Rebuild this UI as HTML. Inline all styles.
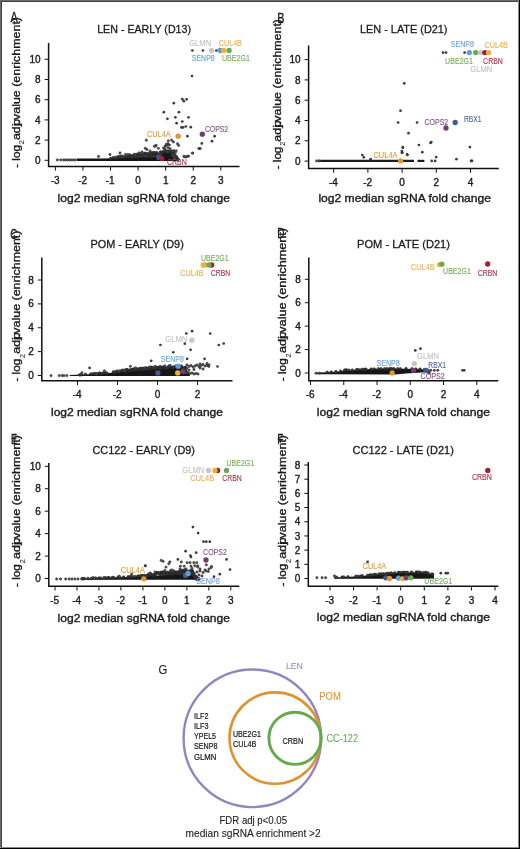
<!DOCTYPE html><html><head><meta charset="utf-8"><style>
html,body{margin:0;padding:0;background:#fff}
body{width:520px;height:849px;overflow:hidden;position:relative}
svg{position:absolute;left:0;top:0;font-family:"Liberation Sans",sans-serif;will-change:transform}
</style></head><body>
<svg width="520" height="849" viewBox="0 0 520 849">
<path d="M48.60 43.00 V166.40 H239.50" fill="none" stroke="#111" stroke-width="1.5"/>
<path d="M44.60 160.30 H48.60" stroke="#111" stroke-width="1"/>
<text x="40.60" y="163.90" font-size="10.0" fill="#1a1a1a" stroke="#1a1a1a" stroke-width="0.36" text-anchor="end">0</text>
<path d="M44.60 140.10 H48.60" stroke="#111" stroke-width="1"/>
<text x="40.60" y="143.70" font-size="10.0" fill="#1a1a1a" stroke="#1a1a1a" stroke-width="0.36" text-anchor="end">2</text>
<path d="M44.60 119.90 H48.60" stroke="#111" stroke-width="1"/>
<text x="40.60" y="123.50" font-size="10.0" fill="#1a1a1a" stroke="#1a1a1a" stroke-width="0.36" text-anchor="end">4</text>
<path d="M44.60 99.70 H48.60" stroke="#111" stroke-width="1"/>
<text x="40.60" y="103.30" font-size="10.0" fill="#1a1a1a" stroke="#1a1a1a" stroke-width="0.36" text-anchor="end">6</text>
<path d="M44.60 79.50 H48.60" stroke="#111" stroke-width="1"/>
<text x="40.60" y="83.10" font-size="10.0" fill="#1a1a1a" stroke="#1a1a1a" stroke-width="0.36" text-anchor="end">8</text>
<path d="M44.60 59.30 H48.60" stroke="#111" stroke-width="1"/>
<text x="40.60" y="62.90" font-size="10.0" fill="#1a1a1a" stroke="#1a1a1a" stroke-width="0.36" text-anchor="end">10</text>
<path d="M55.40 166.40 V170.60" stroke="#111" stroke-width="1"/>
<text x="55.10" y="183.80" font-size="10.0" fill="#1a1a1a" stroke="#1a1a1a" stroke-width="0.36" text-anchor="middle">-3</text>
<path d="M82.97 166.40 V170.60" stroke="#111" stroke-width="1"/>
<text x="82.67" y="183.80" font-size="10.0" fill="#1a1a1a" stroke="#1a1a1a" stroke-width="0.36" text-anchor="middle">-2</text>
<path d="M110.53 166.40 V170.60" stroke="#111" stroke-width="1"/>
<text x="110.23" y="183.80" font-size="10.0" fill="#1a1a1a" stroke="#1a1a1a" stroke-width="0.36" text-anchor="middle">-1</text>
<path d="M138.10 166.40 V170.60" stroke="#111" stroke-width="1"/>
<text x="138.10" y="183.80" font-size="10.0" fill="#1a1a1a" stroke="#1a1a1a" stroke-width="0.36" text-anchor="middle">0</text>
<path d="M165.67 166.40 V170.60" stroke="#111" stroke-width="1"/>
<text x="165.67" y="183.80" font-size="10.0" fill="#1a1a1a" stroke="#1a1a1a" stroke-width="0.36" text-anchor="middle">1</text>
<path d="M193.23 166.40 V170.60" stroke="#111" stroke-width="1"/>
<text x="193.23" y="183.80" font-size="10.0" fill="#1a1a1a" stroke="#1a1a1a" stroke-width="0.36" text-anchor="middle">2</text>
<path d="M220.80 166.40 V170.60" stroke="#111" stroke-width="1"/>
<text x="220.80" y="183.80" font-size="10.0" fill="#1a1a1a" stroke="#1a1a1a" stroke-width="0.36" text-anchor="middle">3</text>
<text x="97.20" y="32.60" font-size="11.8" fill="#1a1a1a" stroke="#1a1a1a" stroke-width="0.3" text-anchor="start" textLength="93.80" lengthAdjust="spacingAndGlyphs">LEN - EARLY (D13)</text>
<text x="10.40" y="22.30" font-size="14.0" fill="#1a1a1a" stroke="#1a1a1a" stroke-width="0.3" text-anchor="start" textLength="7.20" lengthAdjust="spacingAndGlyphs">A</text>
<text x="57.60" y="201.90" font-size="11.5" fill="#1a1a1a" stroke="#1a1a1a" stroke-width="0.36" text-anchor="start" textLength="172.40" lengthAdjust="spacingAndGlyphs">log2 median sgRNA fold change</text>
<g transform="translate(19.60 167.80) rotate(-90)">
<text x="0" y="0" font-size="11.6" fill="#1a1a1a" stroke="#1a1a1a" stroke-width="0.36" textLength="22.72" lengthAdjust="spacingAndGlyphs">- log</text>
<text x="23.52" y="4.7" font-size="7.2" fill="#333" stroke="#333" stroke-width="0.1">2</text>
<text x="27.75" y="0" font-size="11.6" fill="#1a1a1a" stroke="#1a1a1a" stroke-width="0.36" textLength="123.05" lengthAdjust="spacingAndGlyphs"> adj.value (enrichment)</text>
<text x="42.43" y="0" font-size="11.6" fill="#1a1a1a" stroke="#1a1a1a" stroke-width="0.3">p</text>
</g>
<polygon points="77.0,161.0 77.0,158.6 100.0,158.4 115.0,158.2 125.0,157.3 145.0,157.0 157.0,156.8 160.0,156.5 163.0,152.5 166.0,151.0 169.0,151.5 171.0,154.0 173.0,157.0 176.0,159.8 178.0,160.6 178.0,161.0" fill="#161616"/>
<g fill="#3c3c3c" stroke="#1c1c1c" stroke-width="0.5"><circle cx="110.8" cy="158.4" r="1.35"/><circle cx="113.3" cy="157.8" r="1.35"/><circle cx="114.9" cy="157.9" r="1.35"/><circle cx="117.2" cy="158.0" r="1.35"/><circle cx="118.0" cy="156.9" r="1.35"/><circle cx="119.8" cy="156.5" r="1.35"/><circle cx="121.8" cy="156.2" r="1.35"/><circle cx="123.4" cy="157.2" r="1.35"/><circle cx="125.2" cy="156.5" r="1.35"/><circle cx="127.2" cy="155.9" r="1.35"/><circle cx="128.4" cy="156.9" r="1.35"/><circle cx="129.5" cy="155.5" r="1.35"/><circle cx="130.1" cy="155.1" r="1.35"/><circle cx="131.3" cy="156.8" r="1.35"/><circle cx="131.8" cy="157.1" r="1.35"/><circle cx="133.5" cy="155.1" r="1.35"/><circle cx="133.6" cy="155.8" r="1.35"/><circle cx="134.8" cy="154.6" r="1.35"/><circle cx="134.3" cy="156.5" r="1.35"/><circle cx="136.8" cy="155.2" r="1.35"/><circle cx="135.7" cy="156.4" r="1.35"/><circle cx="137.3" cy="154.3" r="1.35"/><circle cx="137.4" cy="156.5" r="1.35"/><circle cx="139.0" cy="155.3" r="1.35"/><circle cx="139.0" cy="156.2" r="1.35"/><circle cx="140.9" cy="154.0" r="1.35"/><circle cx="140.7" cy="154.3" r="1.35"/><circle cx="142.4" cy="156.3" r="1.35"/><circle cx="142.3" cy="156.6" r="1.35"/><circle cx="144.4" cy="156.5" r="1.35"/><circle cx="144.8" cy="153.6" r="1.35"/><circle cx="143.9" cy="154.0" r="1.35"/><circle cx="145.6" cy="154.3" r="1.35"/><circle cx="145.3" cy="153.3" r="1.35"/><circle cx="147.5" cy="153.8" r="1.35"/><circle cx="147.3" cy="154.4" r="1.35"/><circle cx="147.4" cy="156.8" r="1.35"/><circle cx="148.6" cy="156.4" r="1.35"/><circle cx="149.5" cy="153.3" r="1.35"/><circle cx="148.7" cy="156.2" r="1.35"/><circle cx="151.1" cy="155.8" r="1.35"/><circle cx="151.1" cy="153.4" r="1.35"/><circle cx="150.7" cy="156.4" r="1.35"/><circle cx="151.6" cy="152.8" r="1.35"/><circle cx="151.9" cy="156.7" r="1.35"/><circle cx="151.9" cy="155.5" r="1.35"/><circle cx="153.6" cy="155.0" r="1.35"/><circle cx="154.1" cy="153.0" r="1.35"/><circle cx="153.5" cy="152.5" r="1.35"/><circle cx="155.5" cy="156.1" r="1.35"/><circle cx="155.9" cy="153.3" r="1.35"/><circle cx="154.8" cy="153.0" r="1.35"/><circle cx="156.5" cy="154.0" r="1.35"/><circle cx="156.8" cy="152.7" r="1.35"/><circle cx="156.6" cy="154.7" r="1.35"/><circle cx="159.2" cy="156.1" r="1.35"/><circle cx="158.8" cy="155.1" r="1.35"/><circle cx="158.2" cy="154.7" r="1.35"/><circle cx="160.7" cy="152.2" r="1.35"/><circle cx="160.8" cy="155.0" r="1.35"/><circle cx="160.4" cy="152.2" r="1.35"/><circle cx="161.6" cy="153.2" r="1.35"/><circle cx="161.3" cy="154.1" r="1.35"/><circle cx="163.9" cy="151.6" r="1.35"/><circle cx="163.6" cy="151.6" r="1.35"/><circle cx="164.8" cy="151.4" r="1.35"/><circle cx="167.0" cy="151.0" r="1.35"/><circle cx="168.6" cy="151.0" r="1.35"/><circle cx="169.7" cy="151.5" r="1.35"/><circle cx="169.9" cy="151.4" r="1.35"/><circle cx="172.0" cy="152.9" r="1.35"/><circle cx="171.7" cy="154.0" r="1.35"/><circle cx="171.7" cy="151.7" r="1.35"/><circle cx="173.4" cy="153.7" r="1.35"/><circle cx="173.3" cy="151.6" r="1.35"/><circle cx="173.1" cy="151.2" r="1.35"/><circle cx="172.7" cy="153.9" r="1.35"/><circle cx="174.7" cy="155.8" r="1.35"/><circle cx="174.3" cy="158.1" r="1.35"/><circle cx="174.4" cy="153.1" r="1.35"/><circle cx="175.8" cy="156.2" r="1.35"/><circle cx="176.4" cy="159.4" r="1.35"/><circle cx="176.7" cy="157.3" r="1.35"/><circle cx="177.4" cy="159.8" r="1.35"/><circle cx="178.2" cy="159.3" r="1.35"/></g>
<circle cx="163.5" cy="148.0" r="1.35" fill="#3a3a3a"/>
<circle cx="165.0" cy="146.0" r="1.35" fill="#3a3a3a"/>
<circle cx="166.5" cy="144.0" r="1.35" fill="#3a3a3a"/>
<circle cx="168.0" cy="143.5" r="1.35" fill="#3a3a3a"/>
<circle cx="169.5" cy="145.0" r="1.35" fill="#3a3a3a"/>
<circle cx="165.0" cy="149.0" r="1.35" fill="#3a3a3a"/>
<circle cx="168.0" cy="147.5" r="1.35" fill="#3a3a3a"/>
<circle cx="170.0" cy="148.5" r="1.35" fill="#3a3a3a"/>
<circle cx="164.0" cy="151.0" r="1.35" fill="#3a3a3a"/>
<circle cx="171.0" cy="150.5" r="1.35" fill="#3a3a3a"/>
<circle cx="167.5" cy="152.0" r="1.35" fill="#3a3a3a"/>
<circle cx="172.5" cy="155.0" r="1.35" fill="#3a3a3a"/>
<circle cx="174.0" cy="157.0" r="1.35" fill="#3a3a3a"/>
<circle cx="166.2" cy="145.4" r="1.35" fill="#3a3a3a"/>
<circle cx="167.7" cy="144.6" r="1.35" fill="#3a3a3a"/>
<circle cx="192.0" cy="76.1" r="1.35" fill="#3a3a3a"/>
<circle cx="182.3" cy="99.2" r="1.35" fill="#3a3a3a"/>
<circle cx="183.8" cy="101.2" r="1.35" fill="#3a3a3a"/>
<circle cx="186.6" cy="99.3" r="1.35" fill="#3a3a3a"/>
<circle cx="173.8" cy="103.2" r="1.35" fill="#3a3a3a"/>
<circle cx="163.8" cy="112.2" r="1.35" fill="#3a3a3a"/>
<circle cx="178.9" cy="112.2" r="1.35" fill="#3a3a3a"/>
<circle cx="167.4" cy="118.8" r="1.35" fill="#3a3a3a"/>
<circle cx="175.4" cy="117.3" r="1.35" fill="#3a3a3a"/>
<circle cx="188.5" cy="117.3" r="1.35" fill="#3a3a3a"/>
<circle cx="176.6" cy="123.2" r="1.35" fill="#3a3a3a"/>
<circle cx="182.3" cy="121.5" r="1.35" fill="#3a3a3a"/>
<circle cx="181.5" cy="127.4" r="1.35" fill="#3a3a3a"/>
<circle cx="183.1" cy="127.4" r="1.35" fill="#3a3a3a"/>
<circle cx="185.8" cy="126.5" r="1.35" fill="#3a3a3a"/>
<circle cx="190.8" cy="127.2" r="1.35" fill="#3a3a3a"/>
<circle cx="187.4" cy="136.2" r="1.35" fill="#3a3a3a"/>
<circle cx="214.6" cy="136.2" r="1.35" fill="#3a3a3a"/>
<circle cx="212.0" cy="141.2" r="1.35" fill="#3a3a3a"/>
<circle cx="201.8" cy="143.4" r="1.35" fill="#3a3a3a"/>
<circle cx="199.2" cy="148.5" r="1.35" fill="#3a3a3a"/>
<circle cx="200.3" cy="148.5" r="1.35" fill="#3a3a3a"/>
<circle cx="192.8" cy="153.1" r="1.35" fill="#3a3a3a"/>
<circle cx="184.6" cy="156.9" r="1.35" fill="#3a3a3a"/>
<circle cx="186.9" cy="156.5" r="1.35" fill="#3a3a3a"/>
<circle cx="188.5" cy="156.2" r="1.35" fill="#3a3a3a"/>
<circle cx="198.8" cy="148.5" r="1.35" fill="#3a3a3a"/>
<circle cx="192.4" cy="50.5" r="1.35" fill="#3a3a3a"/>
<circle cx="202.9" cy="50.5" r="1.35" fill="#3a3a3a"/>
<circle cx="216.3" cy="50.5" r="1.35" fill="#3a3a3a"/>
<circle cx="57.3" cy="159.9" r="1.15" fill="#5a5a5a" stroke="#2a2a2a" stroke-width="0.6"/>
<circle cx="60.7" cy="159.9" r="1.15" fill="#5a5a5a" stroke="#2a2a2a" stroke-width="0.6"/>
<circle cx="63.5" cy="159.9" r="1.15" fill="#5a5a5a" stroke="#2a2a2a" stroke-width="0.6"/>
<circle cx="65.5" cy="159.9" r="1.15" fill="#5a5a5a" stroke="#2a2a2a" stroke-width="0.6"/>
<circle cx="67.5" cy="159.9" r="1.15" fill="#5a5a5a" stroke="#2a2a2a" stroke-width="0.6"/>
<circle cx="69.5" cy="159.9" r="1.15" fill="#5a5a5a" stroke="#2a2a2a" stroke-width="0.6"/>
<circle cx="71.5" cy="159.9" r="1.15" fill="#5a5a5a" stroke="#2a2a2a" stroke-width="0.6"/>
<circle cx="73.5" cy="159.9" r="1.15" fill="#5a5a5a" stroke="#2a2a2a" stroke-width="0.6"/>
<circle cx="75.5" cy="159.9" r="1.15" fill="#5a5a5a" stroke="#2a2a2a" stroke-width="0.6"/>
<circle cx="98.5" cy="156.5" r="1.15" fill="#5a5a5a" stroke="#2a2a2a" stroke-width="0.6"/>
<circle cx="110.0" cy="154.5" r="1.15" fill="#5a5a5a" stroke="#2a2a2a" stroke-width="0.6"/>
<circle cx="120.0" cy="153.0" r="1.15" fill="#5a5a5a" stroke="#2a2a2a" stroke-width="0.6"/>
<circle cx="125.4" cy="154.5" r="1.15" fill="#5a5a5a" stroke="#2a2a2a" stroke-width="0.6"/>
<circle cx="134.8" cy="154.4" r="1.15" fill="#5a5a5a" stroke="#2a2a2a" stroke-width="0.6"/>
<circle cx="139.0" cy="152.9" r="1.15" fill="#5a5a5a" stroke="#2a2a2a" stroke-width="0.6"/>
<circle cx="146.3" cy="140.2" r="1.15" fill="#5a5a5a" stroke="#2a2a2a" stroke-width="0.6"/>
<circle cx="145.2" cy="148.3" r="1.15" fill="#5a5a5a" stroke="#2a2a2a" stroke-width="0.6"/>
<circle cx="146.9" cy="149.4" r="1.15" fill="#5a5a5a" stroke="#2a2a2a" stroke-width="0.6"/>
<circle cx="154.4" cy="146.3" r="1.15" fill="#5a5a5a" stroke="#2a2a2a" stroke-width="0.6"/>
<circle cx="156.1" cy="145.4" r="1.15" fill="#5a5a5a" stroke="#2a2a2a" stroke-width="0.6"/>
<circle cx="158.4" cy="148.3" r="1.15" fill="#5a5a5a" stroke="#2a2a2a" stroke-width="0.6"/>
<circle cx="168.3" cy="140.8" r="1.15" fill="#5a5a5a" stroke="#2a2a2a" stroke-width="0.6"/>
<circle cx="171.7" cy="140.2" r="1.15" fill="#5a5a5a" stroke="#2a2a2a" stroke-width="0.6"/>
<circle cx="173.4" cy="141.9" r="1.15" fill="#5a5a5a" stroke="#2a2a2a" stroke-width="0.6"/>
<circle cx="177.5" cy="143.7" r="1.15" fill="#5a5a5a" stroke="#2a2a2a" stroke-width="0.6"/>
<circle cx="178.6" cy="145.4" r="1.15" fill="#5a5a5a" stroke="#2a2a2a" stroke-width="0.6"/>
<circle cx="174.0" cy="151.1" r="1.15" fill="#5a5a5a" stroke="#2a2a2a" stroke-width="0.6"/>
<circle cx="175.2" cy="152.9" r="1.15" fill="#5a5a5a" stroke="#2a2a2a" stroke-width="0.6"/>
<circle cx="183.8" cy="156.3" r="1.15" fill="#5a5a5a" stroke="#2a2a2a" stroke-width="0.6"/>
<circle cx="174.6" cy="158.0" r="1.15" fill="#5a5a5a" stroke="#2a2a2a" stroke-width="0.6"/>
<circle cx="155.4" cy="146.2" r="1.15" fill="#5a5a5a" stroke="#2a2a2a" stroke-width="0.6"/>
<circle cx="164.6" cy="148.5" r="1.15" fill="#5a5a5a" stroke="#2a2a2a" stroke-width="0.6"/>
<circle cx="173.8" cy="150.8" r="1.15" fill="#5a5a5a" stroke="#2a2a2a" stroke-width="0.6"/>
<circle cx="176.2" cy="150.8" r="1.15" fill="#5a5a5a" stroke="#2a2a2a" stroke-width="0.6"/>
<circle cx="192.3" cy="153.1" r="1.15" fill="#5a5a5a" stroke="#2a2a2a" stroke-width="0.6"/>
<circle cx="185.4" cy="156.9" r="1.15" fill="#5a5a5a" stroke="#2a2a2a" stroke-width="0.6"/>
<circle cx="187.7" cy="156.2" r="1.15" fill="#5a5a5a" stroke="#2a2a2a" stroke-width="0.6"/>
<circle cx="128.0" cy="154.5" r="1.15" fill="#5a5a5a" stroke="#2a2a2a" stroke-width="0.6"/>
<circle cx="115.5" cy="157.2" r="1.15" fill="#5a5a5a" stroke="#2a2a2a" stroke-width="0.6"/>
<circle cx="142.0" cy="152.0" r="1.15" fill="#5a5a5a" stroke="#2a2a2a" stroke-width="0.6"/>
<circle cx="150.0" cy="151.0" r="1.15" fill="#5a5a5a" stroke="#2a2a2a" stroke-width="0.6"/>
<circle cx="211.6" cy="50.5" r="2.65" fill="#c9c6c9"/>
<circle cx="220.1" cy="50.5" r="2.65" fill="#5e9dd6"/>
<circle cx="223.7" cy="50.5" r="2.65" fill="#e9b33b"/>
<circle cx="229.1" cy="50.5" r="2.65" fill="#6aab4e"/>
<circle cx="178.2" cy="136.2" r="2.65" fill="#e0962f"/>
<circle cx="202.3" cy="134.2" r="2.65" fill="#713c72"/>
<circle cx="159.0" cy="157.5" r="2.65" fill="#3e5d8f"/>
<circle cx="161.7" cy="158.6" r="2.65" fill="#9e1f38"/>
<text x="189.20" y="45.50" font-size="8.2" fill="#c4c2c4" stroke="#c4c2c4" stroke-width="0.12" text-anchor="start" textLength="22.00" lengthAdjust="spacingAndGlyphs">GLMN</text>
<text x="218.80" y="45.50" font-size="8.2" fill="#e8b445" stroke="#e8b445" stroke-width="0.12" text-anchor="start" textLength="23.10" lengthAdjust="spacingAndGlyphs">CUL4B</text>
<text x="191.80" y="60.60" font-size="8.2" fill="#6aa3d8" stroke="#6aa3d8" stroke-width="0.12" text-anchor="start" textLength="22.90" lengthAdjust="spacingAndGlyphs">SENP8</text>
<text x="222.00" y="60.60" font-size="8.2" fill="#72ad58" stroke="#72ad58" stroke-width="0.12" text-anchor="start" textLength="28.00" lengthAdjust="spacingAndGlyphs">UBE2G1</text>
<text x="146.90" y="136.60" font-size="8.2" fill="#e19a3e" stroke="#e19a3e" stroke-width="0.12" text-anchor="start" textLength="23.90" lengthAdjust="spacingAndGlyphs">CUL4A</text>
<text x="204.90" y="131.50" font-size="8.2" fill="#82508a" stroke="#82508a" stroke-width="0.12" text-anchor="start" textLength="23.30" lengthAdjust="spacingAndGlyphs">COPS2</text>
<text x="166.90" y="164.90" font-size="8.2" fill="#a83548" stroke="#a83548" stroke-width="0.12" text-anchor="start" textLength="20.00" lengthAdjust="spacingAndGlyphs">CRBN</text>
<path d="M308.60 45.50 V168.60 H498.80" fill="none" stroke="#111" stroke-width="1.5"/>
<path d="M304.60 161.10 H308.60" stroke="#111" stroke-width="1"/>
<text x="300.60" y="164.70" font-size="10.0" fill="#1a1a1a" stroke="#1a1a1a" stroke-width="0.36" text-anchor="end">0</text>
<path d="M304.60 140.80 H308.60" stroke="#111" stroke-width="1"/>
<text x="300.60" y="144.40" font-size="10.0" fill="#1a1a1a" stroke="#1a1a1a" stroke-width="0.36" text-anchor="end">2</text>
<path d="M304.60 120.50 H308.60" stroke="#111" stroke-width="1"/>
<text x="300.60" y="124.10" font-size="10.0" fill="#1a1a1a" stroke="#1a1a1a" stroke-width="0.36" text-anchor="end">4</text>
<path d="M304.60 100.20 H308.60" stroke="#111" stroke-width="1"/>
<text x="300.60" y="103.80" font-size="10.0" fill="#1a1a1a" stroke="#1a1a1a" stroke-width="0.36" text-anchor="end">6</text>
<path d="M304.60 79.90 H308.60" stroke="#111" stroke-width="1"/>
<text x="300.60" y="83.50" font-size="10.0" fill="#1a1a1a" stroke="#1a1a1a" stroke-width="0.36" text-anchor="end">8</text>
<path d="M304.60 59.60 H308.60" stroke="#111" stroke-width="1"/>
<text x="300.60" y="63.20" font-size="10.0" fill="#1a1a1a" stroke="#1a1a1a" stroke-width="0.36" text-anchor="end">10</text>
<path d="M333.70 168.60 V172.80" stroke="#111" stroke-width="1"/>
<text x="333.40" y="186.00" font-size="10.0" fill="#1a1a1a" stroke="#1a1a1a" stroke-width="0.36" text-anchor="middle">-4</text>
<path d="M367.90 168.60 V172.80" stroke="#111" stroke-width="1"/>
<text x="367.60" y="186.00" font-size="10.0" fill="#1a1a1a" stroke="#1a1a1a" stroke-width="0.36" text-anchor="middle">-2</text>
<path d="M402.10 168.60 V172.80" stroke="#111" stroke-width="1"/>
<text x="402.10" y="186.00" font-size="10.0" fill="#1a1a1a" stroke="#1a1a1a" stroke-width="0.36" text-anchor="middle">0</text>
<path d="M436.30 168.60 V172.80" stroke="#111" stroke-width="1"/>
<text x="436.30" y="186.00" font-size="10.0" fill="#1a1a1a" stroke="#1a1a1a" stroke-width="0.36" text-anchor="middle">2</text>
<path d="M470.50 168.60 V172.80" stroke="#111" stroke-width="1"/>
<text x="470.50" y="186.00" font-size="10.0" fill="#1a1a1a" stroke="#1a1a1a" stroke-width="0.36" text-anchor="middle">4</text>
<text x="360.00" y="32.60" font-size="11.8" fill="#1a1a1a" stroke="#1a1a1a" stroke-width="0.3" text-anchor="start" textLength="87.50" lengthAdjust="spacingAndGlyphs">LEN - LATE (D21)</text>
<text x="277.20" y="23.10" font-size="14.0" fill="#1a1a1a" stroke="#1a1a1a" stroke-width="0.3" text-anchor="start" textLength="7.20" lengthAdjust="spacingAndGlyphs">B</text>
<text x="318.40" y="202.00" font-size="11.5" fill="#1a1a1a" stroke="#1a1a1a" stroke-width="0.36" text-anchor="start" textLength="172.60" lengthAdjust="spacingAndGlyphs">log2 median sgRNA fold change</text>
<g transform="translate(280.50 169.30) rotate(-90)">
<text x="0" y="0" font-size="11.6" fill="#1a1a1a" stroke="#1a1a1a" stroke-width="0.36" textLength="22.65" lengthAdjust="spacingAndGlyphs">- log</text>
<text x="23.45" y="4.7" font-size="7.2" fill="#333" stroke="#333" stroke-width="0.1">2</text>
<text x="27.66" y="0" font-size="11.6" fill="#1a1a1a" stroke="#1a1a1a" stroke-width="0.36" textLength="122.64" lengthAdjust="spacingAndGlyphs"> adj.value (enrichment)</text>
<text x="42.28" y="0" font-size="11.6" fill="#1a1a1a" stroke="#1a1a1a" stroke-width="0.3">p</text>
</g>
<polygon points="318.0,162.0 318.0,159.8 414.0,159.8 414.0,162.0" fill="#1c1c1c"/>
<polygon points="417.5,162.0 417.5,159.8 424.4,159.8 424.4,162.0" fill="#1c1c1c"/>
<circle cx="362.3" cy="155.0" r="1.35" fill="#3a3a3a"/>
<circle cx="363.8" cy="157.3" r="1.35" fill="#3a3a3a"/>
<circle cx="370.6" cy="159.2" r="1.35" fill="#3a3a3a"/>
<circle cx="402.9" cy="147.7" r="1.35" fill="#3a3a3a"/>
<circle cx="402.3" cy="152.5" r="1.35" fill="#3a3a3a"/>
<circle cx="407.1" cy="154.4" r="1.35" fill="#3a3a3a"/>
<circle cx="400.5" cy="110.7" r="1.35" fill="#3a3a3a"/>
<circle cx="398.1" cy="122.5" r="1.35" fill="#3a3a3a"/>
<circle cx="417.1" cy="122.5" r="1.35" fill="#3a3a3a"/>
<circle cx="408.5" cy="133.2" r="1.35" fill="#3a3a3a"/>
<circle cx="430.5" cy="142.9" r="1.35" fill="#3a3a3a"/>
<circle cx="431.3" cy="142.0" r="1.35" fill="#3a3a3a"/>
<circle cx="418.9" cy="145.0" r="1.35" fill="#3a3a3a"/>
<circle cx="402.8" cy="147.1" r="1.35" fill="#3a3a3a"/>
<circle cx="469.9" cy="147.1" r="1.35" fill="#3a3a3a"/>
<circle cx="401.9" cy="151.0" r="1.35" fill="#3a3a3a"/>
<circle cx="401.9" cy="152.8" r="1.35" fill="#3a3a3a"/>
<circle cx="422.3" cy="152.2" r="1.35" fill="#3a3a3a"/>
<circle cx="407.5" cy="155.0" r="1.35" fill="#3a3a3a"/>
<circle cx="436.2" cy="157.1" r="1.35" fill="#3a3a3a"/>
<circle cx="456.4" cy="159.2" r="1.35" fill="#3a3a3a"/>
<circle cx="431.7" cy="160.9" r="1.35" fill="#3a3a3a"/>
<circle cx="435.1" cy="160.9" r="1.35" fill="#3a3a3a"/>
<circle cx="471.1" cy="160.9" r="1.35" fill="#3a3a3a"/>
<circle cx="472.0" cy="160.9" r="1.35" fill="#3a3a3a"/>
<circle cx="404.3" cy="83.3" r="1.35" fill="#3a3a3a"/>
<circle cx="443.0" cy="52.6" r="1.35" fill="#3a3a3a"/>
<circle cx="446.0" cy="52.6" r="1.35" fill="#3a3a3a"/>
<circle cx="464.6" cy="52.6" r="1.35" fill="#3a3a3a"/>
<circle cx="316.7" cy="160.9" r="1.15" fill="#5a5a5a" stroke="#2a2a2a" stroke-width="0.6"/>
<circle cx="319.5" cy="160.9" r="1.15" fill="#5a5a5a" stroke="#2a2a2a" stroke-width="0.6"/>
<circle cx="469.3" cy="52.6" r="2.65" fill="#5e9dd6"/>
<circle cx="475.7" cy="52.6" r="2.65" fill="#6aab4e"/>
<circle cx="480.4" cy="52.6" r="2.65" fill="#c9c6c9"/>
<circle cx="484.8" cy="52.6" r="2.65" fill="#9e1f38"/>
<circle cx="488.7" cy="52.6" r="2.65" fill="#e9b33b"/>
<circle cx="446.0" cy="128.0" r="2.65" fill="#713c72"/>
<circle cx="455.2" cy="122.5" r="2.65" fill="#3e5d8f"/>
<circle cx="400.6" cy="160.9" r="2.65" fill="#e0962f"/>
<text x="450.80" y="46.80" font-size="8.2" fill="#6aa3d8" stroke="#6aa3d8" stroke-width="0.12" text-anchor="start" textLength="23.10" lengthAdjust="spacingAndGlyphs">SENP8</text>
<text x="484.40" y="47.80" font-size="8.2" fill="#e8b445" stroke="#e8b445" stroke-width="0.12" text-anchor="start" textLength="23.60" lengthAdjust="spacingAndGlyphs">CUL4B</text>
<text x="445.10" y="64.30" font-size="8.2" fill="#72ad58" stroke="#72ad58" stroke-width="0.12" text-anchor="start" textLength="27.90" lengthAdjust="spacingAndGlyphs">UBE2G1</text>
<text x="483.10" y="64.30" font-size="8.2" fill="#a83548" stroke="#a83548" stroke-width="0.12" text-anchor="start" textLength="19.80" lengthAdjust="spacingAndGlyphs">CRBN</text>
<text x="470.30" y="72.00" font-size="8.2" fill="#c4c2c4" stroke="#c4c2c4" stroke-width="0.12" text-anchor="start" textLength="21.90" lengthAdjust="spacingAndGlyphs">GLMN</text>
<text x="424.40" y="125.10" font-size="8.2" fill="#82508a" stroke="#82508a" stroke-width="0.12" text-anchor="start" textLength="23.90" lengthAdjust="spacingAndGlyphs">COPS2</text>
<text x="463.90" y="121.60" font-size="8.2" fill="#4d6a98" stroke="#4d6a98" stroke-width="0.12" text-anchor="start" textLength="17.60" lengthAdjust="spacingAndGlyphs">RBX1</text>
<text x="373.50" y="157.70" font-size="8.2" fill="#e19a3e" stroke="#e19a3e" stroke-width="0.12" text-anchor="start" textLength="24.00" lengthAdjust="spacingAndGlyphs">CUL4A</text>
<path d="M41.80 257.50 V380.80 H232.50" fill="none" stroke="#111" stroke-width="1.5"/>
<path d="M37.80 375.50 H41.80" stroke="#111" stroke-width="1"/>
<text x="33.80" y="379.10" font-size="10.0" fill="#1a1a1a" stroke="#1a1a1a" stroke-width="0.36" text-anchor="end">0</text>
<path d="M37.80 351.62 H41.80" stroke="#111" stroke-width="1"/>
<text x="33.80" y="355.23" font-size="10.0" fill="#1a1a1a" stroke="#1a1a1a" stroke-width="0.36" text-anchor="end">2</text>
<path d="M37.80 327.75 H41.80" stroke="#111" stroke-width="1"/>
<text x="33.80" y="331.35" font-size="10.0" fill="#1a1a1a" stroke="#1a1a1a" stroke-width="0.36" text-anchor="end">4</text>
<path d="M37.80 303.88 H41.80" stroke="#111" stroke-width="1"/>
<text x="33.80" y="307.48" font-size="10.0" fill="#1a1a1a" stroke="#1a1a1a" stroke-width="0.36" text-anchor="end">6</text>
<path d="M37.80 280.00 H41.80" stroke="#111" stroke-width="1"/>
<text x="33.80" y="283.60" font-size="10.0" fill="#1a1a1a" stroke="#1a1a1a" stroke-width="0.36" text-anchor="end">8</text>
<path d="M77.50 380.80 V385.00" stroke="#111" stroke-width="1"/>
<text x="77.20" y="398.20" font-size="10.0" fill="#1a1a1a" stroke="#1a1a1a" stroke-width="0.36" text-anchor="middle">-4</text>
<path d="M117.50 380.80 V385.00" stroke="#111" stroke-width="1"/>
<text x="117.20" y="398.20" font-size="10.0" fill="#1a1a1a" stroke="#1a1a1a" stroke-width="0.36" text-anchor="middle">-2</text>
<path d="M157.50 380.80 V385.00" stroke="#111" stroke-width="1"/>
<text x="157.50" y="398.20" font-size="10.0" fill="#1a1a1a" stroke="#1a1a1a" stroke-width="0.36" text-anchor="middle">0</text>
<path d="M197.50 380.80 V385.00" stroke="#111" stroke-width="1"/>
<text x="197.50" y="398.20" font-size="10.0" fill="#1a1a1a" stroke="#1a1a1a" stroke-width="0.36" text-anchor="middle">2</text>
<text x="90.50" y="248.40" font-size="11.8" fill="#1a1a1a" stroke="#1a1a1a" stroke-width="0.3" text-anchor="start" textLength="93.30" lengthAdjust="spacingAndGlyphs">POM - EARLY (D9)</text>
<text x="10.30" y="238.50" font-size="14.0" fill="#1a1a1a" stroke="#1a1a1a" stroke-width="0.3" text-anchor="start" textLength="7.20" lengthAdjust="spacingAndGlyphs">C</text>
<text x="51.00" y="416.20" font-size="11.5" fill="#1a1a1a" stroke="#1a1a1a" stroke-width="0.36" text-anchor="start" textLength="172.00" lengthAdjust="spacingAndGlyphs">log2 median sgRNA fold change</text>
<g transform="translate(19.80 381.60) rotate(-90)">
<text x="0" y="0" font-size="11.6" fill="#1a1a1a" stroke="#1a1a1a" stroke-width="0.36" textLength="22.77" lengthAdjust="spacingAndGlyphs">- log</text>
<text x="23.57" y="4.7" font-size="7.2" fill="#333" stroke="#333" stroke-width="0.1">2</text>
<text x="27.80" y="0" font-size="11.6" fill="#1a1a1a" stroke="#1a1a1a" stroke-width="0.36" textLength="123.30" lengthAdjust="spacingAndGlyphs"> adj.value (enrichment)</text>
<text x="42.51" y="0" font-size="11.6" fill="#1a1a1a" stroke="#1a1a1a" stroke-width="0.3">p</text>
</g>
<polygon points="69.8,376.0 69.8,375.0 100.0,373.8 130.0,371.0 160.0,368.6 176.0,367.6 183.0,368.2 187.0,370.5 189.0,373.5 190.0,375.8 190.0,376.0" fill="#161616"/>
<g fill="#3c3c3c" stroke="#1c1c1c" stroke-width="0.5"><circle cx="79.8" cy="374.9" r="1.35"/><circle cx="81.6" cy="374.7" r="1.35"/><circle cx="85.4" cy="374.3" r="1.35"/><circle cx="90.8" cy="374.1" r="1.35"/><circle cx="92.3" cy="374.0" r="1.35"/><circle cx="94.2" cy="373.5" r="1.35"/><circle cx="95.9" cy="373.8" r="1.35"/><circle cx="96.9" cy="373.9" r="1.35"/><circle cx="99.1" cy="373.5" r="1.35"/><circle cx="99.8" cy="373.1" r="1.35"/><circle cx="101.7" cy="373.6" r="1.35"/><circle cx="103.4" cy="373.0" r="1.35"/><circle cx="105.1" cy="372.9" r="1.35"/><circle cx="106.8" cy="373.1" r="1.35"/><circle cx="113.4" cy="371.9" r="1.35"/><circle cx="114.7" cy="372.3" r="1.35"/><circle cx="116.6" cy="371.4" r="1.35"/><circle cx="117.3" cy="371.3" r="1.35"/><circle cx="118.9" cy="372.0" r="1.35"/><circle cx="120.6" cy="371.0" r="1.35"/><circle cx="123.0" cy="371.3" r="1.35"/><circle cx="122.7" cy="370.2" r="1.35"/><circle cx="124.0" cy="371.1" r="1.35"/><circle cx="124.8" cy="371.3" r="1.35"/><circle cx="125.6" cy="371.4" r="1.35"/><circle cx="125.9" cy="369.7" r="1.35"/><circle cx="127.3" cy="369.7" r="1.35"/><circle cx="127.0" cy="370.5" r="1.35"/><circle cx="128.8" cy="370.8" r="1.35"/><circle cx="129.5" cy="371.0" r="1.35"/><circle cx="130.6" cy="369.8" r="1.35"/><circle cx="130.7" cy="370.2" r="1.35"/><circle cx="132.7" cy="370.0" r="1.35"/><circle cx="132.1" cy="369.7" r="1.35"/><circle cx="133.6" cy="369.0" r="1.35"/><circle cx="133.8" cy="370.6" r="1.35"/><circle cx="135.3" cy="368.4" r="1.35"/><circle cx="134.8" cy="369.7" r="1.35"/><circle cx="136.5" cy="369.6" r="1.35"/><circle cx="137.0" cy="369.6" r="1.35"/><circle cx="138.8" cy="368.9" r="1.35"/><circle cx="138.0" cy="369.7" r="1.35"/><circle cx="140.8" cy="369.5" r="1.35"/><circle cx="140.1" cy="368.6" r="1.35"/><circle cx="141.6" cy="368.6" r="1.35"/><circle cx="141.6" cy="368.6" r="1.35"/><circle cx="143.3" cy="368.4" r="1.35"/><circle cx="142.8" cy="369.4" r="1.35"/><circle cx="144.8" cy="369.2" r="1.35"/><circle cx="145.4" cy="368.2" r="1.35"/><circle cx="146.5" cy="368.0" r="1.35"/><circle cx="146.1" cy="369.0" r="1.35"/><circle cx="148.6" cy="368.1" r="1.35"/><circle cx="148.6" cy="368.4" r="1.35"/><circle cx="150.0" cy="368.0" r="1.35"/><circle cx="149.7" cy="369.2" r="1.35"/><circle cx="151.4" cy="367.5" r="1.35"/><circle cx="151.8" cy="367.6" r="1.35"/><circle cx="152.7" cy="367.5" r="1.35"/><circle cx="155.0" cy="368.3" r="1.35"/><circle cx="156.0" cy="367.2" r="1.35"/><circle cx="155.9" cy="368.5" r="1.35"/><circle cx="157.7" cy="367.7" r="1.35"/><circle cx="158.3" cy="367.6" r="1.35"/><circle cx="159.9" cy="366.8" r="1.35"/><circle cx="160.0" cy="368.4" r="1.35"/><circle cx="161.5" cy="368.4" r="1.35"/><circle cx="161.3" cy="367.1" r="1.35"/><circle cx="162.6" cy="367.8" r="1.35"/><circle cx="163.9" cy="367.1" r="1.35"/><circle cx="164.3" cy="366.6" r="1.35"/><circle cx="165.3" cy="367.9" r="1.35"/><circle cx="166.0" cy="368.1" r="1.35"/><circle cx="167.9" cy="367.9" r="1.35"/><circle cx="169.3" cy="366.2" r="1.35"/><circle cx="168.8" cy="366.5" r="1.35"/><circle cx="170.5" cy="367.1" r="1.35"/><circle cx="172.0" cy="367.1" r="1.35"/><circle cx="173.8" cy="367.5" r="1.35"/><circle cx="173.6" cy="367.3" r="1.35"/><circle cx="175.8" cy="366.8" r="1.35"/><circle cx="175.8" cy="366.2" r="1.35"/><circle cx="177.4" cy="367.3" r="1.35"/><circle cx="179.0" cy="367.1" r="1.35"/><circle cx="178.3" cy="366.1" r="1.35"/><circle cx="180.1" cy="367.1" r="1.35"/><circle cx="180.5" cy="367.0" r="1.35"/><circle cx="181.4" cy="366.3" r="1.35"/><circle cx="181.3" cy="366.4" r="1.35"/><circle cx="182.9" cy="368.1" r="1.35"/><circle cx="184.8" cy="367.5" r="1.35"/><circle cx="185.2" cy="367.6" r="1.35"/><circle cx="186.2" cy="368.4" r="1.35"/><circle cx="186.1" cy="368.3" r="1.35"/></g>
<circle cx="192.1" cy="331.2" r="1.35" fill="#3a3a3a"/>
<circle cx="186.3" cy="333.5" r="1.35" fill="#3a3a3a"/>
<circle cx="210.2" cy="333.5" r="1.35" fill="#3a3a3a"/>
<circle cx="184.8" cy="343.7" r="1.35" fill="#3a3a3a"/>
<circle cx="160.4" cy="345.0" r="1.35" fill="#3a3a3a"/>
<circle cx="218.8" cy="345.0" r="1.35" fill="#3a3a3a"/>
<circle cx="223.7" cy="343.5" r="1.35" fill="#3a3a3a"/>
<circle cx="190.6" cy="349.8" r="1.35" fill="#3a3a3a"/>
<circle cx="173.3" cy="352.3" r="1.35" fill="#3a3a3a"/>
<circle cx="151.2" cy="360.8" r="1.35" fill="#3a3a3a"/>
<circle cx="187.1" cy="358.8" r="1.35" fill="#3a3a3a"/>
<circle cx="204.6" cy="358.8" r="1.35" fill="#3a3a3a"/>
<circle cx="217.5" cy="366.5" r="1.35" fill="#3a3a3a"/>
<circle cx="208.8" cy="366.5" r="1.35" fill="#3a3a3a"/>
<circle cx="51.0" cy="375.6" r="1.15" fill="#5a5a5a" stroke="#2a2a2a" stroke-width="0.6"/>
<circle cx="59.2" cy="375.6" r="1.15" fill="#5a5a5a" stroke="#2a2a2a" stroke-width="0.6"/>
<circle cx="62.1" cy="375.6" r="1.15" fill="#5a5a5a" stroke="#2a2a2a" stroke-width="0.6"/>
<circle cx="64.0" cy="375.6" r="1.15" fill="#5a5a5a" stroke="#2a2a2a" stroke-width="0.6"/>
<circle cx="66.9" cy="375.6" r="1.15" fill="#5a5a5a" stroke="#2a2a2a" stroke-width="0.6"/>
<circle cx="81.9" cy="372.7" r="1.15" fill="#5a5a5a" stroke="#2a2a2a" stroke-width="0.6"/>
<circle cx="104.4" cy="370.8" r="1.15" fill="#5a5a5a" stroke="#2a2a2a" stroke-width="0.6"/>
<circle cx="119.4" cy="370.8" r="1.15" fill="#5a5a5a" stroke="#2a2a2a" stroke-width="0.6"/>
<circle cx="124.6" cy="370.8" r="1.15" fill="#5a5a5a" stroke="#2a2a2a" stroke-width="0.6"/>
<circle cx="96.2" cy="374.2" r="1.15" fill="#5a5a5a" stroke="#2a2a2a" stroke-width="0.6"/>
<circle cx="89.6" cy="367.9" r="1.15" fill="#5a5a5a" stroke="#2a2a2a" stroke-width="0.6"/>
<circle cx="130.4" cy="366.3" r="1.15" fill="#5a5a5a" stroke="#2a2a2a" stroke-width="0.6"/>
<circle cx="135.8" cy="367.9" r="1.15" fill="#5a5a5a" stroke="#2a2a2a" stroke-width="0.6"/>
<circle cx="145.0" cy="368.0" r="1.15" fill="#5a5a5a" stroke="#2a2a2a" stroke-width="0.6"/>
<circle cx="150.0" cy="367.0" r="1.15" fill="#5a5a5a" stroke="#2a2a2a" stroke-width="0.6"/>
<circle cx="155.0" cy="366.5" r="1.15" fill="#5a5a5a" stroke="#2a2a2a" stroke-width="0.6"/>
<circle cx="165.0" cy="366.0" r="1.15" fill="#5a5a5a" stroke="#2a2a2a" stroke-width="0.6"/>
<circle cx="170.0" cy="365.5" r="1.15" fill="#5a5a5a" stroke="#2a2a2a" stroke-width="0.6"/>
<circle cx="200.0" cy="364.0" r="1.15" fill="#5a5a5a" stroke="#2a2a2a" stroke-width="0.6"/>
<circle cx="207.0" cy="363.5" r="1.15" fill="#5a5a5a" stroke="#2a2a2a" stroke-width="0.6"/>
<circle cx="187.0" cy="365.0" r="1.15" fill="#5a5a5a" stroke="#2a2a2a" stroke-width="0.6"/>
<circle cx="189.0" cy="366.5" r="1.15" fill="#5a5a5a" stroke="#2a2a2a" stroke-width="0.6"/>
<circle cx="191.0" cy="365.5" r="1.15" fill="#5a5a5a" stroke="#2a2a2a" stroke-width="0.6"/>
<circle cx="193.0" cy="367.0" r="1.15" fill="#5a5a5a" stroke="#2a2a2a" stroke-width="0.6"/>
<circle cx="195.0" cy="366.0" r="1.15" fill="#5a5a5a" stroke="#2a2a2a" stroke-width="0.6"/>
<circle cx="197.0" cy="365.0" r="1.15" fill="#5a5a5a" stroke="#2a2a2a" stroke-width="0.6"/>
<circle cx="199.0" cy="366.5" r="1.15" fill="#5a5a5a" stroke="#2a2a2a" stroke-width="0.6"/>
<circle cx="201.0" cy="365.5" r="1.15" fill="#5a5a5a" stroke="#2a2a2a" stroke-width="0.6"/>
<circle cx="203.0" cy="364.5" r="1.15" fill="#5a5a5a" stroke="#2a2a2a" stroke-width="0.6"/>
<circle cx="205.0" cy="366.0" r="1.15" fill="#5a5a5a" stroke="#2a2a2a" stroke-width="0.6"/>
<circle cx="207.0" cy="365.5" r="1.15" fill="#5a5a5a" stroke="#2a2a2a" stroke-width="0.6"/>
<circle cx="209.0" cy="364.8" r="1.15" fill="#5a5a5a" stroke="#2a2a2a" stroke-width="0.6"/>
<circle cx="186.0" cy="373.0" r="1.15" fill="#5a5a5a" stroke="#2a2a2a" stroke-width="0.6"/>
<circle cx="188.0" cy="372.5" r="1.15" fill="#5a5a5a" stroke="#2a2a2a" stroke-width="0.6"/>
<circle cx="190.0" cy="373.5" r="1.15" fill="#5a5a5a" stroke="#2a2a2a" stroke-width="0.6"/>
<circle cx="192.0" cy="373.0" r="1.15" fill="#5a5a5a" stroke="#2a2a2a" stroke-width="0.6"/>
<circle cx="194.0" cy="374.0" r="1.15" fill="#5a5a5a" stroke="#2a2a2a" stroke-width="0.6"/>
<circle cx="196.0" cy="373.5" r="1.15" fill="#5a5a5a" stroke="#2a2a2a" stroke-width="0.6"/>
<circle cx="198.0" cy="374.0" r="1.15" fill="#5a5a5a" stroke="#2a2a2a" stroke-width="0.6"/>
<circle cx="200.0" cy="368.0" r="1.15" fill="#5a5a5a" stroke="#2a2a2a" stroke-width="0.6"/>
<circle cx="203.0" cy="369.0" r="1.15" fill="#5a5a5a" stroke="#2a2a2a" stroke-width="0.6"/>
<circle cx="194.0" cy="369.5" r="1.15" fill="#5a5a5a" stroke="#2a2a2a" stroke-width="0.6"/>
<circle cx="189.0" cy="370.0" r="1.15" fill="#5a5a5a" stroke="#2a2a2a" stroke-width="0.6"/>
<circle cx="211.7" cy="265.0" r="2.65" fill="#9e1f38"/>
<circle cx="203.3" cy="265.0" r="2.65" fill="#e9b33b"/>
<circle cx="205.2" cy="265.0" r="2.65" fill="#e9b33b"/>
<circle cx="209.0" cy="265.0" r="2.65" fill="#6aab4e"/>
<circle cx="191.9" cy="340.2" r="2.65" fill="#c9c6c9"/>
<circle cx="178.1" cy="366.2" r="2.65" fill="#5e9dd6"/>
<circle cx="157.9" cy="372.9" r="2.65" fill="#3e5d8f"/>
<circle cx="177.7" cy="372.9" r="2.65" fill="#e9b33b"/>
<circle cx="182.9" cy="371.5" r="2.65" fill="#713c72"/>
<text x="201.00" y="260.70" font-size="8.2" fill="#72ad58" stroke="#72ad58" stroke-width="0.12" text-anchor="start" textLength="27.70" lengthAdjust="spacingAndGlyphs">UBE2G1</text>
<text x="180.20" y="275.60" font-size="8.2" fill="#e8b445" stroke="#e8b445" stroke-width="0.12" text-anchor="start" textLength="23.40" lengthAdjust="spacingAndGlyphs">CUL4B</text>
<text x="210.80" y="275.60" font-size="8.2" fill="#a83548" stroke="#a83548" stroke-width="0.12" text-anchor="start" textLength="19.40" lengthAdjust="spacingAndGlyphs">CRBN</text>
<text x="165.20" y="341.70" font-size="8.2" fill="#c4c2c4" stroke="#c4c2c4" stroke-width="0.12" text-anchor="start" textLength="22.10" lengthAdjust="spacingAndGlyphs">GLMN</text>
<text x="160.80" y="361.90" font-size="8.2" fill="#6aa3d8" stroke="#6aa3d8" stroke-width="0.12" text-anchor="start" textLength="23.00" lengthAdjust="spacingAndGlyphs">SENP8</text>
<path d="M308.80 257.50 V380.80 H498.30" fill="none" stroke="#111" stroke-width="1.5"/>
<path d="M304.80 373.00 H308.80" stroke="#111" stroke-width="1"/>
<text x="300.80" y="376.60" font-size="10.0" fill="#1a1a1a" stroke="#1a1a1a" stroke-width="0.36" text-anchor="end">0</text>
<path d="M304.80 349.57 H308.80" stroke="#111" stroke-width="1"/>
<text x="300.80" y="353.18" font-size="10.0" fill="#1a1a1a" stroke="#1a1a1a" stroke-width="0.36" text-anchor="end">2</text>
<path d="M304.80 326.15 H308.80" stroke="#111" stroke-width="1"/>
<text x="300.80" y="329.75" font-size="10.0" fill="#1a1a1a" stroke="#1a1a1a" stroke-width="0.36" text-anchor="end">4</text>
<path d="M304.80 302.73 H308.80" stroke="#111" stroke-width="1"/>
<text x="300.80" y="306.33" font-size="10.0" fill="#1a1a1a" stroke="#1a1a1a" stroke-width="0.36" text-anchor="end">6</text>
<path d="M304.80 279.30 H308.80" stroke="#111" stroke-width="1"/>
<text x="300.80" y="282.90" font-size="10.0" fill="#1a1a1a" stroke="#1a1a1a" stroke-width="0.36" text-anchor="end">8</text>
<path d="M310.50 380.80 V385.00" stroke="#111" stroke-width="1"/>
<text x="310.20" y="398.20" font-size="10.0" fill="#1a1a1a" stroke="#1a1a1a" stroke-width="0.36" text-anchor="middle">-6</text>
<path d="M343.76 380.80 V385.00" stroke="#111" stroke-width="1"/>
<text x="343.46" y="398.20" font-size="10.0" fill="#1a1a1a" stroke="#1a1a1a" stroke-width="0.36" text-anchor="middle">-4</text>
<path d="M377.02 380.80 V385.00" stroke="#111" stroke-width="1"/>
<text x="376.72" y="398.20" font-size="10.0" fill="#1a1a1a" stroke="#1a1a1a" stroke-width="0.36" text-anchor="middle">-2</text>
<path d="M410.28 380.80 V385.00" stroke="#111" stroke-width="1"/>
<text x="410.28" y="398.20" font-size="10.0" fill="#1a1a1a" stroke="#1a1a1a" stroke-width="0.36" text-anchor="middle">0</text>
<path d="M443.54 380.80 V385.00" stroke="#111" stroke-width="1"/>
<text x="443.54" y="398.20" font-size="10.0" fill="#1a1a1a" stroke="#1a1a1a" stroke-width="0.36" text-anchor="middle">2</text>
<path d="M476.80 380.80 V385.00" stroke="#111" stroke-width="1"/>
<text x="476.80" y="398.20" font-size="10.0" fill="#1a1a1a" stroke="#1a1a1a" stroke-width="0.36" text-anchor="middle">4</text>
<text x="357.00" y="248.40" font-size="11.8" fill="#1a1a1a" stroke="#1a1a1a" stroke-width="0.3" text-anchor="start" textLength="93.00" lengthAdjust="spacingAndGlyphs">POM - LATE (D21)</text>
<text x="277.30" y="237.70" font-size="14.0" fill="#1a1a1a" stroke="#1a1a1a" stroke-width="0.3" text-anchor="start" textLength="7.20" lengthAdjust="spacingAndGlyphs">D</text>
<text x="316.80" y="415.80" font-size="11.5" fill="#1a1a1a" stroke="#1a1a1a" stroke-width="0.36" text-anchor="start" textLength="173.20" lengthAdjust="spacingAndGlyphs">log2 median sgRNA fold change</text>
<g transform="translate(286.40 381.30) rotate(-90)">
<text x="0" y="0" font-size="11.6" fill="#1a1a1a" stroke="#1a1a1a" stroke-width="0.36" textLength="23.10" lengthAdjust="spacingAndGlyphs">- log</text>
<text x="23.91" y="4.7" font-size="7.2" fill="#333" stroke="#333" stroke-width="0.1">2</text>
<text x="28.21" y="0" font-size="11.6" fill="#1a1a1a" stroke="#1a1a1a" stroke-width="0.36" textLength="125.09" lengthAdjust="spacingAndGlyphs"> adj.value (enrichment)</text>
<text x="43.13" y="0" font-size="11.6" fill="#1a1a1a" stroke="#1a1a1a" stroke-width="0.3">p</text>
</g>
<polygon points="317.0,372.6 329.0,372.2 343.0,371.0 345.0,369.8 350.0,370.4 358.0,369.6 380.0,368.8 405.0,368.7 415.0,368.9 425.0,369.6 429.0,371.2 429.0,371.5 425.0,372.2 406.0,373.6 395.0,374.4 317.0,374.2" fill="#161616"/>
<g fill="#3c3c3c" stroke="#1c1c1c" stroke-width="0.5"><circle cx="327.1" cy="372.3" r="1.35"/><circle cx="331.1" cy="372.1" r="1.35"/><circle cx="335.9" cy="371.7" r="1.35"/><circle cx="340.6" cy="371.2" r="1.35"/><circle cx="344.6" cy="370.2" r="1.35"/><circle cx="346.4" cy="369.8" r="1.35"/><circle cx="349.0" cy="370.3" r="1.35"/><circle cx="352.4" cy="370.2" r="1.35"/><circle cx="356.6" cy="369.7" r="1.35"/><circle cx="358.4" cy="369.6" r="1.35"/><circle cx="361.6" cy="369.5" r="1.35"/><circle cx="363.4" cy="369.4" r="1.35"/><circle cx="365.2" cy="369.4" r="1.35"/><circle cx="366.0" cy="369.3" r="1.35"/><circle cx="371.2" cy="369.1" r="1.35"/><circle cx="374.2" cy="369.0" r="1.35"/><circle cx="378.3" cy="368.9" r="1.35"/><circle cx="381.0" cy="368.8" r="1.35"/><circle cx="384.6" cy="368.8" r="1.35"/><circle cx="386.9" cy="368.8" r="1.35"/><circle cx="389.5" cy="368.8" r="1.35"/><circle cx="390.7" cy="368.8" r="1.35"/><circle cx="391.8" cy="368.8" r="1.35"/><circle cx="394.0" cy="368.8" r="1.35"/><circle cx="397.6" cy="368.8" r="1.35"/><circle cx="400.3" cy="368.8" r="1.35"/><circle cx="406.0" cy="368.7" r="1.35"/><circle cx="411.9" cy="368.9" r="1.35"/><circle cx="415.8" cy="369.0" r="1.35"/><circle cx="420.0" cy="369.2" r="1.35"/><circle cx="424.5" cy="369.6" r="1.35"/><circle cx="425.7" cy="369.9" r="1.35"/><circle cx="428.0" cy="370.5" r="1.35"/><circle cx="429.0" cy="373.0" r="1.35"/><circle cx="428.5" cy="372.1" r="1.35"/></g>
<circle cx="415.3" cy="350.4" r="1.35" fill="#3a3a3a"/>
<circle cx="420.5" cy="348.7" r="1.35" fill="#3a3a3a"/>
<circle cx="430.8" cy="370.3" r="1.35" fill="#3a3a3a"/>
<circle cx="434.3" cy="370.3" r="1.35" fill="#3a3a3a"/>
<circle cx="437.8" cy="370.3" r="1.35" fill="#3a3a3a"/>
<circle cx="462.5" cy="370.3" r="1.35" fill="#3a3a3a"/>
<circle cx="464.2" cy="370.3" r="1.35" fill="#3a3a3a"/>
<circle cx="316.0" cy="373.2" r="1.15" fill="#5a5a5a" stroke="#2a2a2a" stroke-width="0.6"/>
<circle cx="319.5" cy="373.2" r="1.15" fill="#5a5a5a" stroke="#2a2a2a" stroke-width="0.6"/>
<circle cx="439.6" cy="264.6" r="2.65" fill="#e9b33b"/>
<circle cx="441.9" cy="264.2" r="2.65" fill="#6aab4e"/>
<circle cx="487.7" cy="264.0" r="2.65" fill="#9e1f38"/>
<circle cx="414.4" cy="363.7" r="2.65" fill="#c9c6c9"/>
<circle cx="413.5" cy="370.3" r="2.65" fill="#713c72"/>
<circle cx="426.0" cy="370.3" r="2.65" fill="#3e5d8f"/>
<circle cx="392.2" cy="372.9" r="2.65" fill="#e0962f"/>
<text x="410.80" y="270.00" font-size="8.2" fill="#e8b445" stroke="#e8b445" stroke-width="0.12" text-anchor="start" textLength="24.00" lengthAdjust="spacingAndGlyphs">CUL4B</text>
<text x="443.10" y="274.20" font-size="8.2" fill="#72ad58" stroke="#72ad58" stroke-width="0.12" text-anchor="start" textLength="27.70" lengthAdjust="spacingAndGlyphs">UBE2G1</text>
<text x="477.70" y="275.80" font-size="8.2" fill="#a83548" stroke="#a83548" stroke-width="0.12" text-anchor="start" textLength="19.60" lengthAdjust="spacingAndGlyphs">CRBN</text>
<text x="417.00" y="358.70" font-size="8.2" fill="#c4c2c4" stroke="#c4c2c4" stroke-width="0.12" text-anchor="start" textLength="22.00" lengthAdjust="spacingAndGlyphs">GLMN</text>
<text x="376.60" y="366.00" font-size="8.2" fill="#6aa3d8" stroke="#6aa3d8" stroke-width="0.12" text-anchor="start" textLength="23.10" lengthAdjust="spacingAndGlyphs">SENP8</text>
<text x="428.30" y="367.70" font-size="8.2" fill="#4d6a98" stroke="#4d6a98" stroke-width="0.12" text-anchor="start" textLength="17.60" lengthAdjust="spacingAndGlyphs">RBX1</text>
<text x="420.50" y="379.30" font-size="8.2" fill="#82508a" stroke="#82508a" stroke-width="0.12" text-anchor="start" textLength="24.20" lengthAdjust="spacingAndGlyphs">COPS2</text>
<path d="M48.80 463.00 V586.30 H239.30" fill="none" stroke="#111" stroke-width="1.5"/>
<path d="M44.80 578.50 H48.80" stroke="#111" stroke-width="1"/>
<text x="40.80" y="582.10" font-size="10.0" fill="#1a1a1a" stroke="#1a1a1a" stroke-width="0.36" text-anchor="end">0</text>
<path d="M44.80 556.06 H48.80" stroke="#111" stroke-width="1"/>
<text x="40.80" y="559.66" font-size="10.0" fill="#1a1a1a" stroke="#1a1a1a" stroke-width="0.36" text-anchor="end">2</text>
<path d="M44.80 533.62 H48.80" stroke="#111" stroke-width="1"/>
<text x="40.80" y="537.22" font-size="10.0" fill="#1a1a1a" stroke="#1a1a1a" stroke-width="0.36" text-anchor="end">4</text>
<path d="M44.80 511.18 H48.80" stroke="#111" stroke-width="1"/>
<text x="40.80" y="514.78" font-size="10.0" fill="#1a1a1a" stroke="#1a1a1a" stroke-width="0.36" text-anchor="end">6</text>
<path d="M44.80 488.74 H48.80" stroke="#111" stroke-width="1"/>
<text x="40.80" y="492.34" font-size="10.0" fill="#1a1a1a" stroke="#1a1a1a" stroke-width="0.36" text-anchor="end">8</text>
<path d="M44.80 466.30 H48.80" stroke="#111" stroke-width="1"/>
<text x="40.80" y="469.90" font-size="10.0" fill="#1a1a1a" stroke="#1a1a1a" stroke-width="0.36" text-anchor="end">10</text>
<path d="M55.00 586.30 V590.50" stroke="#111" stroke-width="1"/>
<text x="54.70" y="603.70" font-size="10.0" fill="#1a1a1a" stroke="#1a1a1a" stroke-width="0.36" text-anchor="middle">-5</text>
<path d="M76.97 586.30 V590.50" stroke="#111" stroke-width="1"/>
<text x="76.67" y="603.70" font-size="10.0" fill="#1a1a1a" stroke="#1a1a1a" stroke-width="0.36" text-anchor="middle">-4</text>
<path d="M98.95 586.30 V590.50" stroke="#111" stroke-width="1"/>
<text x="98.65" y="603.70" font-size="10.0" fill="#1a1a1a" stroke="#1a1a1a" stroke-width="0.36" text-anchor="middle">-3</text>
<path d="M120.93 586.30 V590.50" stroke="#111" stroke-width="1"/>
<text x="120.63" y="603.70" font-size="10.0" fill="#1a1a1a" stroke="#1a1a1a" stroke-width="0.36" text-anchor="middle">-2</text>
<path d="M142.90 586.30 V590.50" stroke="#111" stroke-width="1"/>
<text x="142.60" y="603.70" font-size="10.0" fill="#1a1a1a" stroke="#1a1a1a" stroke-width="0.36" text-anchor="middle">-1</text>
<path d="M164.88 586.30 V590.50" stroke="#111" stroke-width="1"/>
<text x="164.88" y="603.70" font-size="10.0" fill="#1a1a1a" stroke="#1a1a1a" stroke-width="0.36" text-anchor="middle">0</text>
<path d="M186.85 586.30 V590.50" stroke="#111" stroke-width="1"/>
<text x="186.85" y="603.70" font-size="10.0" fill="#1a1a1a" stroke="#1a1a1a" stroke-width="0.36" text-anchor="middle">1</text>
<path d="M208.83 586.30 V590.50" stroke="#111" stroke-width="1"/>
<text x="208.83" y="603.70" font-size="10.0" fill="#1a1a1a" stroke="#1a1a1a" stroke-width="0.36" text-anchor="middle">2</text>
<path d="M230.80 586.30 V590.50" stroke="#111" stroke-width="1"/>
<text x="230.80" y="603.70" font-size="10.0" fill="#1a1a1a" stroke="#1a1a1a" stroke-width="0.36" text-anchor="middle">3</text>
<text x="92.50" y="454.00" font-size="11.8" fill="#1a1a1a" stroke="#1a1a1a" stroke-width="0.3" text-anchor="start" textLength="102.50" lengthAdjust="spacingAndGlyphs">CC122 - EARLY (D9)</text>
<text x="10.90" y="443.70" font-size="14.0" fill="#1a1a1a" stroke="#1a1a1a" stroke-width="0.3" text-anchor="start" textLength="6.00" lengthAdjust="spacingAndGlyphs">E</text>
<text x="57.60" y="621.70" font-size="11.5" fill="#1a1a1a" stroke="#1a1a1a" stroke-width="0.36" text-anchor="start" textLength="172.40" lengthAdjust="spacingAndGlyphs">log2 median sgRNA fold change</text>
<g transform="translate(20.10 587.00) rotate(-90)">
<text x="0" y="0" font-size="11.6" fill="#1a1a1a" stroke="#1a1a1a" stroke-width="0.36" textLength="22.90" lengthAdjust="spacingAndGlyphs">- log</text>
<text x="23.71" y="4.7" font-size="7.2" fill="#333" stroke="#333" stroke-width="0.1">2</text>
<text x="27.97" y="0" font-size="11.6" fill="#1a1a1a" stroke="#1a1a1a" stroke-width="0.36" textLength="124.03" lengthAdjust="spacingAndGlyphs"> adj.value (enrichment)</text>
<text x="42.76" y="0" font-size="11.6" fill="#1a1a1a" stroke="#1a1a1a" stroke-width="0.3">p</text>
</g>
<polygon points="81.7,579.8 81.7,578.6 100.0,578.0 148.0,576.2 170.0,574.5 185.0,573.2 190.0,574.0 194.0,577.0 196.0,579.0 196.0,579.8" fill="#161616"/>
<g fill="#3c3c3c" stroke="#1c1c1c" stroke-width="0.5"><circle cx="81.9" cy="578.8" r="1.35"/><circle cx="83.1" cy="578.6" r="1.35"/><circle cx="84.3" cy="578.6" r="1.35"/><circle cx="88.0" cy="578.5" r="1.35"/><circle cx="91.5" cy="578.4" r="1.35"/><circle cx="95.6" cy="578.1" r="1.35"/><circle cx="98.8" cy="578.1" r="1.35"/><circle cx="100.5" cy="578.0" r="1.35"/><circle cx="105.2" cy="577.8" r="1.35"/><circle cx="107.5" cy="577.8" r="1.35"/><circle cx="109.0" cy="577.7" r="1.35"/><circle cx="112.3" cy="577.6" r="1.35"/><circle cx="113.7" cy="577.5" r="1.35"/><circle cx="118.0" cy="577.3" r="1.35"/><circle cx="119.7" cy="577.3" r="1.35"/><circle cx="123.6" cy="577.1" r="1.35"/><circle cx="128.2" cy="576.9" r="1.35"/><circle cx="130.1" cy="576.7" r="1.35"/><circle cx="132.4" cy="576.6" r="1.35"/><circle cx="135.1" cy="576.5" r="1.35"/><circle cx="137.9" cy="576.2" r="1.35"/><circle cx="138.9" cy="576.2" r="1.35"/><circle cx="141.2" cy="575.7" r="1.35"/><circle cx="142.4" cy="575.6" r="1.35"/><circle cx="142.0" cy="576.3" r="1.35"/><circle cx="144.6" cy="575.7" r="1.35"/><circle cx="145.4" cy="576.1" r="1.35"/><circle cx="147.8" cy="575.0" r="1.35"/><circle cx="146.9" cy="576.1" r="1.35"/><circle cx="148.6" cy="574.5" r="1.35"/><circle cx="149.0" cy="575.0" r="1.35"/><circle cx="150.4" cy="573.7" r="1.35"/><circle cx="150.6" cy="574.6" r="1.35"/><circle cx="152.1" cy="575.1" r="1.35"/><circle cx="153.2" cy="574.9" r="1.35"/><circle cx="154.0" cy="575.5" r="1.35"/><circle cx="155.2" cy="575.1" r="1.35"/><circle cx="154.8" cy="574.1" r="1.35"/><circle cx="156.4" cy="572.9" r="1.35"/><circle cx="156.5" cy="573.3" r="1.35"/><circle cx="157.9" cy="572.7" r="1.35"/><circle cx="158.0" cy="573.0" r="1.35"/><circle cx="160.5" cy="572.4" r="1.35"/><circle cx="159.7" cy="574.1" r="1.35"/><circle cx="161.5" cy="573.1" r="1.35"/><circle cx="162.1" cy="572.4" r="1.35"/><circle cx="161.7" cy="575.1" r="1.35"/><circle cx="162.8" cy="572.1" r="1.35"/><circle cx="163.0" cy="572.9" r="1.35"/><circle cx="164.3" cy="572.1" r="1.35"/><circle cx="164.9" cy="574.7" r="1.35"/><circle cx="165.9" cy="573.2" r="1.35"/><circle cx="167.1" cy="573.1" r="1.35"/><circle cx="166.7" cy="574.3" r="1.35"/><circle cx="167.7" cy="572.4" r="1.35"/><circle cx="168.1" cy="573.8" r="1.35"/><circle cx="167.9" cy="573.9" r="1.35"/><circle cx="170.3" cy="573.8" r="1.35"/><circle cx="170.1" cy="574.0" r="1.35"/><circle cx="170.0" cy="573.9" r="1.35"/><circle cx="171.1" cy="572.6" r="1.35"/><circle cx="170.7" cy="570.8" r="1.35"/><circle cx="171.0" cy="571.7" r="1.35"/><circle cx="172.8" cy="574.1" r="1.35"/><circle cx="173.5" cy="574.0" r="1.35"/><circle cx="174.2" cy="571.8" r="1.35"/><circle cx="174.1" cy="571.3" r="1.35"/><circle cx="176.6" cy="572.6" r="1.35"/><circle cx="176.1" cy="573.4" r="1.35"/><circle cx="176.5" cy="572.7" r="1.35"/><circle cx="178.2" cy="572.6" r="1.35"/><circle cx="178.0" cy="573.1" r="1.35"/><circle cx="177.3" cy="572.0" r="1.35"/><circle cx="179.7" cy="571.4" r="1.35"/><circle cx="179.2" cy="573.6" r="1.35"/><circle cx="181.2" cy="573.4" r="1.35"/><circle cx="180.5" cy="570.7" r="1.35"/><circle cx="181.4" cy="570.6" r="1.35"/><circle cx="182.9" cy="570.5" r="1.35"/><circle cx="182.7" cy="573.3" r="1.35"/><circle cx="183.7" cy="571.7" r="1.35"/><circle cx="184.7" cy="569.9" r="1.35"/><circle cx="184.1" cy="572.1" r="1.35"/><circle cx="186.1" cy="571.4" r="1.35"/><circle cx="185.4" cy="572.7" r="1.35"/><circle cx="187.0" cy="571.1" r="1.35"/><circle cx="187.0" cy="572.1" r="1.35"/><circle cx="186.9" cy="571.6" r="1.35"/><circle cx="188.8" cy="571.6" r="1.35"/><circle cx="189.4" cy="572.4" r="1.35"/><circle cx="190.5" cy="574.1" r="1.35"/><circle cx="190.5" cy="572.6" r="1.35"/><circle cx="190.4" cy="570.7" r="1.35"/><circle cx="192.5" cy="570.9" r="1.35"/><circle cx="192.1" cy="571.7" r="1.35"/><circle cx="192.2" cy="574.3" r="1.35"/><circle cx="192.1" cy="572.4" r="1.35"/><circle cx="193.2" cy="575.8" r="1.35"/><circle cx="193.4" cy="574.8" r="1.35"/><circle cx="194.0" cy="573.4" r="1.35"/><circle cx="195.6" cy="576.2" r="1.35"/><circle cx="195.2" cy="577.9" r="1.35"/><circle cx="195.3" cy="576.4" r="1.35"/><circle cx="196.8" cy="578.2" r="1.35"/><circle cx="196.9" cy="577.4" r="1.35"/><circle cx="197.1" cy="579.5" r="1.35"/><circle cx="197.4" cy="579.2" r="1.35"/><circle cx="199.0" cy="578.9" r="1.35"/><circle cx="198.1" cy="579.5" r="1.35"/></g>
<circle cx="145.1" cy="566.0" r="1.35" fill="#3a3a3a"/>
<circle cx="192.9" cy="527.1" r="1.35" fill="#3a3a3a"/>
<circle cx="198.1" cy="533.1" r="1.35" fill="#3a3a3a"/>
<circle cx="203.5" cy="541.7" r="1.35" fill="#3a3a3a"/>
<circle cx="206.3" cy="541.7" r="1.35" fill="#3a3a3a"/>
<circle cx="209.8" cy="541.7" r="1.35" fill="#3a3a3a"/>
<circle cx="185.6" cy="551.2" r="1.35" fill="#3a3a3a"/>
<circle cx="196.2" cy="552.7" r="1.35" fill="#3a3a3a"/>
<circle cx="190.4" cy="555.6" r="1.35" fill="#3a3a3a"/>
<circle cx="191.0" cy="556.9" r="1.35" fill="#3a3a3a"/>
<circle cx="226.5" cy="559.4" r="1.35" fill="#3a3a3a"/>
<circle cx="177.9" cy="559.4" r="1.35" fill="#3a3a3a"/>
<circle cx="145.4" cy="565.6" r="1.35" fill="#3a3a3a"/>
<circle cx="230.0" cy="569.6" r="1.35" fill="#3a3a3a"/>
<circle cx="208.3" cy="571.5" r="1.35" fill="#3a3a3a"/>
<circle cx="219.8" cy="574.2" r="1.35" fill="#3a3a3a"/>
<circle cx="214.0" cy="576.7" r="1.35" fill="#3a3a3a"/>
<circle cx="56.7" cy="579.0" r="1.15" fill="#5a5a5a" stroke="#2a2a2a" stroke-width="0.6"/>
<circle cx="60.5" cy="579.0" r="1.15" fill="#5a5a5a" stroke="#2a2a2a" stroke-width="0.6"/>
<circle cx="65.7" cy="579.0" r="1.15" fill="#5a5a5a" stroke="#2a2a2a" stroke-width="0.6"/>
<circle cx="69.2" cy="579.0" r="1.15" fill="#5a5a5a" stroke="#2a2a2a" stroke-width="0.6"/>
<circle cx="72.0" cy="579.0" r="1.15" fill="#5a5a5a" stroke="#2a2a2a" stroke-width="0.6"/>
<circle cx="74.9" cy="579.0" r="1.15" fill="#5a5a5a" stroke="#2a2a2a" stroke-width="0.6"/>
<circle cx="78.0" cy="579.0" r="1.15" fill="#5a5a5a" stroke="#2a2a2a" stroke-width="0.6"/>
<circle cx="93.2" cy="577.5" r="1.15" fill="#5a5a5a" stroke="#2a2a2a" stroke-width="0.6"/>
<circle cx="103.8" cy="577.5" r="1.15" fill="#5a5a5a" stroke="#2a2a2a" stroke-width="0.6"/>
<circle cx="119.2" cy="576.2" r="1.15" fill="#5a5a5a" stroke="#2a2a2a" stroke-width="0.6"/>
<circle cx="131.7" cy="574.2" r="1.15" fill="#5a5a5a" stroke="#2a2a2a" stroke-width="0.6"/>
<circle cx="150.0" cy="573.0" r="1.15" fill="#5a5a5a" stroke="#2a2a2a" stroke-width="0.6"/>
<circle cx="155.0" cy="572.0" r="1.15" fill="#5a5a5a" stroke="#2a2a2a" stroke-width="0.6"/>
<circle cx="165.0" cy="570.5" r="1.15" fill="#5a5a5a" stroke="#2a2a2a" stroke-width="0.6"/>
<circle cx="172.0" cy="570.0" r="1.15" fill="#5a5a5a" stroke="#2a2a2a" stroke-width="0.6"/>
<circle cx="180.0" cy="569.0" r="1.15" fill="#5a5a5a" stroke="#2a2a2a" stroke-width="0.6"/>
<circle cx="186.0" cy="569.0" r="1.15" fill="#5a5a5a" stroke="#2a2a2a" stroke-width="0.6"/>
<circle cx="192.0" cy="568.5" r="1.15" fill="#5a5a5a" stroke="#2a2a2a" stroke-width="0.6"/>
<circle cx="200.0" cy="569.0" r="1.15" fill="#5a5a5a" stroke="#2a2a2a" stroke-width="0.6"/>
<circle cx="205.0" cy="570.0" r="1.15" fill="#5a5a5a" stroke="#2a2a2a" stroke-width="0.6"/>
<circle cx="161.2" cy="560.4" r="1.15" fill="#5a5a5a" stroke="#2a2a2a" stroke-width="0.6"/>
<circle cx="163.1" cy="561.3" r="1.15" fill="#5a5a5a" stroke="#2a2a2a" stroke-width="0.6"/>
<circle cx="169.8" cy="561.9" r="1.15" fill="#5a5a5a" stroke="#2a2a2a" stroke-width="0.6"/>
<circle cx="168.8" cy="563.8" r="1.15" fill="#5a5a5a" stroke="#2a2a2a" stroke-width="0.6"/>
<circle cx="166.0" cy="567.1" r="1.15" fill="#5a5a5a" stroke="#2a2a2a" stroke-width="0.6"/>
<circle cx="181.3" cy="561.9" r="1.15" fill="#5a5a5a" stroke="#2a2a2a" stroke-width="0.6"/>
<circle cx="187.1" cy="562.7" r="1.15" fill="#5a5a5a" stroke="#2a2a2a" stroke-width="0.6"/>
<circle cx="190.0" cy="562.7" r="1.15" fill="#5a5a5a" stroke="#2a2a2a" stroke-width="0.6"/>
<circle cx="193.8" cy="562.7" r="1.15" fill="#5a5a5a" stroke="#2a2a2a" stroke-width="0.6"/>
<circle cx="196.7" cy="562.7" r="1.15" fill="#5a5a5a" stroke="#2a2a2a" stroke-width="0.6"/>
<circle cx="180.4" cy="566.2" r="1.15" fill="#5a5a5a" stroke="#2a2a2a" stroke-width="0.6"/>
<circle cx="184.2" cy="566.2" r="1.15" fill="#5a5a5a" stroke="#2a2a2a" stroke-width="0.6"/>
<circle cx="191.0" cy="566.2" r="1.15" fill="#5a5a5a" stroke="#2a2a2a" stroke-width="0.6"/>
<circle cx="194.8" cy="565.8" r="1.15" fill="#5a5a5a" stroke="#2a2a2a" stroke-width="0.6"/>
<circle cx="197.7" cy="566.0" r="1.15" fill="#5a5a5a" stroke="#2a2a2a" stroke-width="0.6"/>
<circle cx="206.3" cy="564.8" r="1.15" fill="#5a5a5a" stroke="#2a2a2a" stroke-width="0.6"/>
<circle cx="211.2" cy="567.5" r="1.15" fill="#5a5a5a" stroke="#2a2a2a" stroke-width="0.6"/>
<circle cx="197.0" cy="572.0" r="1.15" fill="#5a5a5a" stroke="#2a2a2a" stroke-width="0.6"/>
<circle cx="200.0" cy="571.0" r="1.15" fill="#5a5a5a" stroke="#2a2a2a" stroke-width="0.6"/>
<circle cx="203.0" cy="572.5" r="1.15" fill="#5a5a5a" stroke="#2a2a2a" stroke-width="0.6"/>
<circle cx="206.0" cy="571.0" r="1.15" fill="#5a5a5a" stroke="#2a2a2a" stroke-width="0.6"/>
<circle cx="209.0" cy="569.0" r="1.15" fill="#5a5a5a" stroke="#2a2a2a" stroke-width="0.6"/>
<circle cx="211.5" cy="566.5" r="1.15" fill="#5a5a5a" stroke="#2a2a2a" stroke-width="0.6"/>
<circle cx="199.0" cy="575.0" r="1.15" fill="#5a5a5a" stroke="#2a2a2a" stroke-width="0.6"/>
<circle cx="202.0" cy="576.0" r="1.15" fill="#5a5a5a" stroke="#2a2a2a" stroke-width="0.6"/>
<circle cx="197.7" cy="567.0" r="1.15" fill="#5a5a5a" stroke="#2a2a2a" stroke-width="0.6"/>
<circle cx="208.5" cy="470.4" r="2.65" fill="#c9c6c9"/>
<circle cx="217.7" cy="470.4" r="2.65" fill="#9e1f38"/>
<circle cx="214.9" cy="470.4" r="2.65" fill="#e9b33b"/>
<circle cx="226.5" cy="470.4" r="2.65" fill="#6aab4e"/>
<circle cx="206.0" cy="560.0" r="2.65" fill="#713c72"/>
<circle cx="185.6" cy="575.4" r="2.65" fill="#3e5d8f"/>
<circle cx="188.1" cy="573.5" r="2.65" fill="#5e9dd6"/>
<circle cx="143.8" cy="578.8" r="2.65" fill="#e0962f"/>
<text x="226.50" y="465.50" font-size="8.2" fill="#72ad58" stroke="#72ad58" stroke-width="0.12" text-anchor="start" textLength="27.70" lengthAdjust="spacingAndGlyphs">UBE2G1</text>
<text x="182.30" y="473.00" font-size="8.2" fill="#c4c2c4" stroke="#c4c2c4" stroke-width="0.12" text-anchor="start" textLength="21.90" lengthAdjust="spacingAndGlyphs">GLMN</text>
<text x="190.30" y="480.70" font-size="8.2" fill="#e8b445" stroke="#e8b445" stroke-width="0.12" text-anchor="start" textLength="23.90" lengthAdjust="spacingAndGlyphs">CUL4B</text>
<text x="222.30" y="480.70" font-size="8.2" fill="#a83548" stroke="#a83548" stroke-width="0.12" text-anchor="start" textLength="19.50" lengthAdjust="spacingAndGlyphs">CRBN</text>
<text x="203.10" y="555.20" font-size="8.2" fill="#82508a" stroke="#82508a" stroke-width="0.12" text-anchor="start" textLength="23.80" lengthAdjust="spacingAndGlyphs">COPS2</text>
<text x="196.20" y="584.00" font-size="8.2" fill="#6aa3d8" stroke="#6aa3d8" stroke-width="0.12" text-anchor="start" textLength="23.60" lengthAdjust="spacingAndGlyphs">SENP8</text>
<text x="120.70" y="572.70" font-size="8.2" fill="#e19a3e" stroke="#e19a3e" stroke-width="0.12" text-anchor="start" textLength="24.40" lengthAdjust="spacingAndGlyphs">CUL4A</text>
<path d="M308.30 462.00 V586.30 H498.30" fill="none" stroke="#111" stroke-width="1.5"/>
<path d="M304.30 578.50 H308.30" stroke="#111" stroke-width="1"/>
<text x="300.30" y="582.10" font-size="10.0" fill="#1a1a1a" stroke="#1a1a1a" stroke-width="0.36" text-anchor="end">0</text>
<path d="M304.30 564.31 H308.30" stroke="#111" stroke-width="1"/>
<text x="300.30" y="567.91" font-size="10.0" fill="#1a1a1a" stroke="#1a1a1a" stroke-width="0.36" text-anchor="end">1</text>
<path d="M304.30 550.12 H308.30" stroke="#111" stroke-width="1"/>
<text x="300.30" y="553.73" font-size="10.0" fill="#1a1a1a" stroke="#1a1a1a" stroke-width="0.36" text-anchor="end">2</text>
<path d="M304.30 535.94 H308.30" stroke="#111" stroke-width="1"/>
<text x="300.30" y="539.54" font-size="10.0" fill="#1a1a1a" stroke="#1a1a1a" stroke-width="0.36" text-anchor="end">3</text>
<path d="M304.30 521.75 H308.30" stroke="#111" stroke-width="1"/>
<text x="300.30" y="525.35" font-size="10.0" fill="#1a1a1a" stroke="#1a1a1a" stroke-width="0.36" text-anchor="end">4</text>
<path d="M304.30 507.56 H308.30" stroke="#111" stroke-width="1"/>
<text x="300.30" y="511.16" font-size="10.0" fill="#1a1a1a" stroke="#1a1a1a" stroke-width="0.36" text-anchor="end">5</text>
<path d="M304.30 493.38 H308.30" stroke="#111" stroke-width="1"/>
<text x="300.30" y="496.98" font-size="10.0" fill="#1a1a1a" stroke="#1a1a1a" stroke-width="0.36" text-anchor="end">6</text>
<path d="M304.30 479.19 H308.30" stroke="#111" stroke-width="1"/>
<text x="300.30" y="482.79" font-size="10.0" fill="#1a1a1a" stroke="#1a1a1a" stroke-width="0.36" text-anchor="end">7</text>
<path d="M304.30 465.00 H308.30" stroke="#111" stroke-width="1"/>
<text x="300.30" y="468.60" font-size="10.0" fill="#1a1a1a" stroke="#1a1a1a" stroke-width="0.36" text-anchor="end">8</text>
<path d="M330.00 586.30 V590.50" stroke="#111" stroke-width="1"/>
<text x="329.70" y="603.70" font-size="10.0" fill="#1a1a1a" stroke="#1a1a1a" stroke-width="0.36" text-anchor="middle">-3</text>
<path d="M353.57 586.30 V590.50" stroke="#111" stroke-width="1"/>
<text x="353.27" y="603.70" font-size="10.0" fill="#1a1a1a" stroke="#1a1a1a" stroke-width="0.36" text-anchor="middle">-2</text>
<path d="M377.14 586.30 V590.50" stroke="#111" stroke-width="1"/>
<text x="376.84" y="603.70" font-size="10.0" fill="#1a1a1a" stroke="#1a1a1a" stroke-width="0.36" text-anchor="middle">-1</text>
<path d="M400.71 586.30 V590.50" stroke="#111" stroke-width="1"/>
<text x="400.71" y="603.70" font-size="10.0" fill="#1a1a1a" stroke="#1a1a1a" stroke-width="0.36" text-anchor="middle">0</text>
<path d="M424.29 586.30 V590.50" stroke="#111" stroke-width="1"/>
<text x="424.29" y="603.70" font-size="10.0" fill="#1a1a1a" stroke="#1a1a1a" stroke-width="0.36" text-anchor="middle">1</text>
<path d="M447.86 586.30 V590.50" stroke="#111" stroke-width="1"/>
<text x="447.86" y="603.70" font-size="10.0" fill="#1a1a1a" stroke="#1a1a1a" stroke-width="0.36" text-anchor="middle">2</text>
<path d="M471.43 586.30 V590.50" stroke="#111" stroke-width="1"/>
<text x="471.43" y="603.70" font-size="10.0" fill="#1a1a1a" stroke="#1a1a1a" stroke-width="0.36" text-anchor="middle">3</text>
<path d="M495.00 586.30 V590.50" stroke="#111" stroke-width="1"/>
<text x="495.00" y="603.70" font-size="10.0" fill="#1a1a1a" stroke="#1a1a1a" stroke-width="0.36" text-anchor="middle">4</text>
<text x="352.50" y="454.00" font-size="11.8" fill="#1a1a1a" stroke="#1a1a1a" stroke-width="0.3" text-anchor="start" textLength="101.30" lengthAdjust="spacingAndGlyphs">CC122 - LATE (D21)</text>
<text x="277.20" y="443.90" font-size="14.0" fill="#1a1a1a" stroke="#1a1a1a" stroke-width="0.3" text-anchor="start" textLength="6.00" lengthAdjust="spacingAndGlyphs">F</text>
<text x="316.80" y="621.30" font-size="11.5" fill="#1a1a1a" stroke="#1a1a1a" stroke-width="0.36" text-anchor="start" textLength="173.20" lengthAdjust="spacingAndGlyphs">log2 median sgRNA fold change</text>
<g transform="translate(286.30 586.50) rotate(-90)">
<text x="0" y="0" font-size="11.6" fill="#1a1a1a" stroke="#1a1a1a" stroke-width="0.36" textLength="22.83" lengthAdjust="spacingAndGlyphs">- log</text>
<text x="23.63" y="4.7" font-size="7.2" fill="#333" stroke="#333" stroke-width="0.1">2</text>
<text x="27.88" y="0" font-size="11.6" fill="#1a1a1a" stroke="#1a1a1a" stroke-width="0.36" textLength="123.62" lengthAdjust="spacingAndGlyphs"> adj.value (enrichment)</text>
<text x="42.62" y="0" font-size="11.6" fill="#1a1a1a" stroke="#1a1a1a" stroke-width="0.3">p</text>
</g>
<polygon points="334.0,578.8 334.0,577.4 360.0,576.2 380.0,574.3 400.0,572.8 420.0,572.5 428.0,573.3 434.0,575.0 434.0,578.8" fill="#161616"/>
<g fill="#3c3c3c" stroke="#1c1c1c" stroke-width="0.5"><circle cx="336.6" cy="577.3" r="1.35"/><circle cx="342.1" cy="577.2" r="1.35"/><circle cx="343.8" cy="577.1" r="1.35"/><circle cx="347.9" cy="576.9" r="1.35"/><circle cx="355.9" cy="576.4" r="1.35"/><circle cx="358.3" cy="576.3" r="1.35"/><circle cx="360.9" cy="576.1" r="1.35"/><circle cx="362.4" cy="575.9" r="1.35"/><circle cx="367.6" cy="575.4" r="1.35"/><circle cx="369.7" cy="575.2" r="1.35"/><circle cx="370.3" cy="575.1" r="1.35"/><circle cx="372.0" cy="575.0" r="1.35"/><circle cx="374.0" cy="574.6" r="1.35"/><circle cx="375.6" cy="574.4" r="1.35"/><circle cx="379.0" cy="574.1" r="1.35"/><circle cx="380.0" cy="574.1" r="1.35"/><circle cx="381.5" cy="574.1" r="1.35"/><circle cx="383.2" cy="573.8" r="1.35"/><circle cx="385.8" cy="573.9" r="1.35"/><circle cx="387.3" cy="573.6" r="1.35"/><circle cx="387.9" cy="573.5" r="1.35"/><circle cx="390.1" cy="573.4" r="1.35"/><circle cx="391.4" cy="573.0" r="1.35"/><circle cx="394.7" cy="572.9" r="1.35"/><circle cx="398.4" cy="572.5" r="1.35"/><circle cx="399.3" cy="572.6" r="1.35"/><circle cx="400.7" cy="572.5" r="1.35"/><circle cx="403.1" cy="572.3" r="1.35"/><circle cx="404.8" cy="572.6" r="1.35"/><circle cx="405.7" cy="572.6" r="1.35"/><circle cx="407.3" cy="572.4" r="1.35"/><circle cx="411.2" cy="572.4" r="1.35"/><circle cx="412.0" cy="572.5" r="1.35"/><circle cx="416.2" cy="572.2" r="1.35"/><circle cx="417.8" cy="572.5" r="1.35"/><circle cx="418.3" cy="572.1" r="1.35"/><circle cx="420.5" cy="572.3" r="1.35"/><circle cx="423.7" cy="572.5" r="1.35"/><circle cx="425.3" cy="572.6" r="1.35"/><circle cx="426.7" cy="572.7" r="1.35"/><circle cx="428.3" cy="573.3" r="1.35"/><circle cx="431.9" cy="574.1" r="1.35"/><circle cx="432.7" cy="574.4" r="1.35"/></g>
<circle cx="367.6" cy="561.8" r="1.35" fill="#3a3a3a"/>
<circle cx="440.8" cy="573.2" r="1.35" fill="#3a3a3a"/>
<circle cx="445.8" cy="573.2" r="1.35" fill="#3a3a3a"/>
<circle cx="447.7" cy="573.2" r="1.35" fill="#3a3a3a"/>
<circle cx="316.9" cy="577.7" r="1.15" fill="#5a5a5a" stroke="#2a2a2a" stroke-width="0.6"/>
<circle cx="322.1" cy="577.7" r="1.15" fill="#5a5a5a" stroke="#2a2a2a" stroke-width="0.6"/>
<circle cx="325.6" cy="577.7" r="1.15" fill="#5a5a5a" stroke="#2a2a2a" stroke-width="0.6"/>
<circle cx="334.5" cy="576.0" r="1.15" fill="#5a5a5a" stroke="#2a2a2a" stroke-width="0.6"/>
<circle cx="487.8" cy="470.4" r="2.65" fill="#9e1f38"/>
<circle cx="385.8" cy="577.8" r="2.65" fill="#3e5d8f"/>
<circle cx="389.5" cy="578.5" r="2.65" fill="#e0962f"/>
<circle cx="398.5" cy="578.1" r="2.65" fill="#5e9dd6"/>
<circle cx="402.8" cy="578.8" r="2.65" fill="#e9b33b"/>
<circle cx="406.2" cy="577.8" r="2.65" fill="#713c72"/>
<circle cx="410.8" cy="577.8" r="2.65" fill="#6aab4e"/>
<text x="471.90" y="479.60" font-size="8.2" fill="#a83548" stroke="#a83548" stroke-width="0.12" text-anchor="start" textLength="20.00" lengthAdjust="spacingAndGlyphs">CRBN</text>
<text x="362.80" y="569.40" font-size="8.2" fill="#e19a3e" stroke="#e19a3e" stroke-width="0.12" text-anchor="start" textLength="23.30" lengthAdjust="spacingAndGlyphs">CUL4A</text>
<text x="424.30" y="584.20" font-size="8.2" fill="#72ad58" stroke="#72ad58" stroke-width="0.12" text-anchor="start" textLength="28.00" lengthAdjust="spacingAndGlyphs">UBE2G1</text>
<circle cx="252.4" cy="738.3" r="68.8" fill="none" stroke="#8f88c0" stroke-width="2.4"/>
<circle cx="275.2" cy="738.1" r="45.7" fill="none" stroke="#df9330" stroke-width="2.6"/>
<circle cx="295.0" cy="738.3" r="26.1" fill="none" stroke="#64a94c" stroke-width="2.9"/>
<text x="158.60" y="673.80" font-size="13.6" fill="#1a1a1a" stroke="#1a1a1a" stroke-width="0.1" text-anchor="start" textLength="8.80" lengthAdjust="spacingAndGlyphs">G</text>
<text x="286.00" y="669.20" font-size="9.8" fill="#8f88c0" stroke="#8f88c0" stroke-width="0.05" text-anchor="start" textLength="16.90" lengthAdjust="spacingAndGlyphs">LEN</text>
<text x="319.30" y="700.30" font-size="10.0" fill="#df9330" stroke="#df9330" stroke-width="0.05" text-anchor="start" textLength="21.60" lengthAdjust="spacingAndGlyphs">POM</text>
<text x="326.40" y="741.60" font-size="10.8" fill="#64a94c" stroke="#64a94c" stroke-width="0.05" text-anchor="start" textLength="31.70" lengthAdjust="spacingAndGlyphs">CC-122</text>
<text x="282.60" y="744.30" font-size="8.8" fill="#1a1a1a" stroke="#1a1a1a" stroke-width="0.2" text-anchor="start" textLength="20.60" lengthAdjust="spacingAndGlyphs">CRBN</text>
<text x="194.00" y="718.70" font-size="8.6" fill="#1a1a1a" stroke="#1a1a1a" stroke-width="0.22" text-anchor="start" textLength="14.50" lengthAdjust="spacingAndGlyphs">ILF2</text>
<text x="194.00" y="728.90" font-size="8.6" fill="#1a1a1a" stroke="#1a1a1a" stroke-width="0.22" text-anchor="start" textLength="14.50" lengthAdjust="spacingAndGlyphs">ILF3</text>
<text x="194.00" y="739.20" font-size="8.6" fill="#1a1a1a" stroke="#1a1a1a" stroke-width="0.22" text-anchor="start" textLength="22.00" lengthAdjust="spacingAndGlyphs">YPEL5</text>
<text x="194.00" y="749.40" font-size="8.6" fill="#1a1a1a" stroke="#1a1a1a" stroke-width="0.22" text-anchor="start" textLength="23.40" lengthAdjust="spacingAndGlyphs">SENP8</text>
<text x="194.00" y="760.00" font-size="8.6" fill="#1a1a1a" stroke="#1a1a1a" stroke-width="0.22" text-anchor="start" textLength="22.40" lengthAdjust="spacingAndGlyphs">GLMN</text>
<text x="233.00" y="736.70" font-size="8.6" fill="#1a1a1a" stroke="#1a1a1a" stroke-width="0.22" text-anchor="start" textLength="28.00" lengthAdjust="spacingAndGlyphs">UBE2G1</text>
<text x="233.00" y="746.80" font-size="8.6" fill="#1a1a1a" stroke="#1a1a1a" stroke-width="0.22" text-anchor="start" textLength="23.40" lengthAdjust="spacingAndGlyphs">CUL4B</text>
<text x="219.50" y="824.00" font-size="10.0" fill="#1a1a1a" stroke="#1a1a1a" stroke-width="0.1" text-anchor="start" textLength="67.50" lengthAdjust="spacingAndGlyphs">FDR adj p&lt;0.05</text>
<text x="185.60" y="837.00" font-size="10.0" fill="#1a1a1a" stroke="#1a1a1a" stroke-width="0.1" text-anchor="start" textLength="135.00" lengthAdjust="spacingAndGlyphs">median sgRNA enrichment &gt;2</text>
<rect x="0" y="0" width="520" height="1" fill="#6b6b6b"/>
<rect x="0" y="0" width="1" height="849" fill="#6b6b6b"/>
<rect x="1" y="1" width="517" height="1" fill="#414141"/>
<rect x="1" y="1" width="1" height="846" fill="#414141"/>
<rect x="518" y="0" width="1" height="848" fill="#8a8a8a"/>
<rect x="0" y="847" width="519" height="1" fill="#8a8a8a"/>
<rect x="519" y="0" width="1" height="849" fill="#000"/>
<rect x="0" y="848" width="520" height="1" fill="#000"/>
</svg></body></html>
